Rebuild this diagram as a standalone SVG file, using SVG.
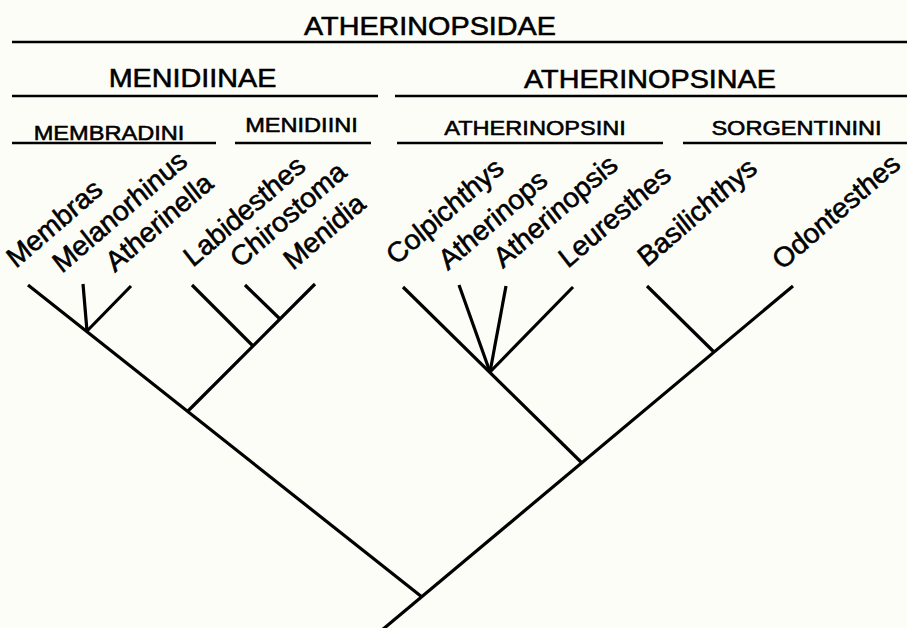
<svg xmlns="http://www.w3.org/2000/svg" width="907" height="628" viewBox="0 0 907 628">
<style>
text{font-family:"Liberation Sans",Arial,Helvetica,sans-serif;fill:#000;stroke:#000;stroke-width:0.55}
.h1{font-size:25px;text-anchor:middle}
.h2{font-size:20.5px;text-anchor:middle}
.leaf{font-size:26px;font-style:italic}
.rule{stroke:#000;stroke-width:2.5;fill:none}
.br{stroke:#000;stroke-width:3.2;fill:none;stroke-linecap:butt}
</style>
<rect width="907" height="628" fill="#fdfdf8"/>
<g id="headers">
<g id="family">
<text class="h1" transform="translate(430,35) scale(1.15,1)">ATHERINOPSIDAE</text>
<line class="rule" x1="12" y1="42" x2="907" y2="42"/>
</g>
<g id="menidiinae">
<text class="h1" transform="translate(192.5,87) scale(1.15,1)">MENIDIINAE</text>
<line class="rule" x1="12" y1="96" x2="378" y2="96"/>
</g>
<g id="atherinopsinae">
<text class="h1" transform="translate(650,88) scale(1.15,1)">ATHERINOPSINAE</text>
<line class="rule" x1="395" y1="96" x2="907" y2="96"/>
</g>
<g id="membradini">
<text class="h2" transform="translate(109,140) scale(1.15,1)">MEMBRADINI</text>
<line class="rule" x1="12" y1="143" x2="216" y2="143"/>
</g>
<g id="menidiini">
<text class="h2" transform="translate(301.5,132) scale(1.15,1)">MENIDIINI</text>
<line class="rule" x1="235" y1="143" x2="371" y2="143"/>
</g>
<g id="atherinopsini">
<text class="h2" transform="translate(535,135) scale(1.15,1)">ATHERINOPSINI</text>
<line class="rule" x1="397" y1="143" x2="663" y2="143"/>
</g>
<g id="sorgentinini">
<text class="h2" transform="translate(796.5,135) scale(1.15,1)">SORGENTININI</text>
<line class="rule" x1="683" y1="143" x2="907" y2="143"/>
</g>
</g>
<g id="taxa">
<g id="membras"><text class="leaf" transform="translate(17,268) scale(1.15,1) rotate(-45)">Membras</text></g>
<g id="melanorhinus"><text class="leaf" transform="translate(63,273) scale(1.15,1) rotate(-45)">Melanorhinus</text></g>
<g id="atherinella"><text class="leaf" transform="translate(116,272) scale(1.15,1) rotate(-45)">Atherinella</text></g>
<g id="labidesthes"><text class="leaf" transform="translate(194,267) scale(1.15,1) rotate(-45)">Labidesthes</text></g>
<g id="chirostoma"><text class="leaf" transform="translate(241,268) scale(1.15,1) rotate(-45)">Chirostoma</text></g>
<g id="menidia"><text class="leaf" transform="translate(294,270) scale(1.15,1) rotate(-45)">Menidia</text></g>
<g id="colpichthys"><text class="leaf" transform="translate(397,265) scale(1.15,1) rotate(-45)">Colpichthys</text></g>
<g id="atherinops"><text class="leaf" transform="translate(449,270) scale(1.15,1) rotate(-45)">Atherinops</text></g>
<g id="atherinopsis"><text class="leaf" transform="translate(504,268) scale(1.15,1) rotate(-45)">Atherinopsis</text></g>
<g id="leuresthes"><text class="leaf" transform="translate(569,268) scale(1.15,1) rotate(-45)">Leuresthes</text></g>
<g id="basilichthys"><text class="leaf" transform="translate(648,267) scale(1.15,1) rotate(-45)">Basilichthys</text></g>
<g id="odontesthes"><text class="leaf" transform="translate(783,270) scale(1.15,1) rotate(-45)">Odontesthes</text></g>
</g>
<g id="connectors">
<line class="br" x1="28" y1="285" x2="422" y2="597"/>
<line class="br" x1="793" y1="286" x2="382" y2="630"/>
<line class="br" x1="83" y1="284" x2="87" y2="331"/>
<line class="br" x1="131" y1="286" x2="87" y2="331"/>
<line class="br" x1="315" y1="284" x2="188" y2="411"/>
<line class="br" x1="192" y1="285" x2="253" y2="346"/>
<line class="br" x1="245" y1="285" x2="280" y2="319"/>
<line class="br" x1="403" y1="287" x2="582" y2="463"/>
<line class="br" x1="459" y1="285" x2="490" y2="372"/>
<line class="br" x1="506" y1="286" x2="490" y2="372"/>
<line class="br" x1="573" y1="287" x2="490" y2="372"/>
<line class="br" x1="647" y1="286" x2="714" y2="352"/>
</g>
</svg>
